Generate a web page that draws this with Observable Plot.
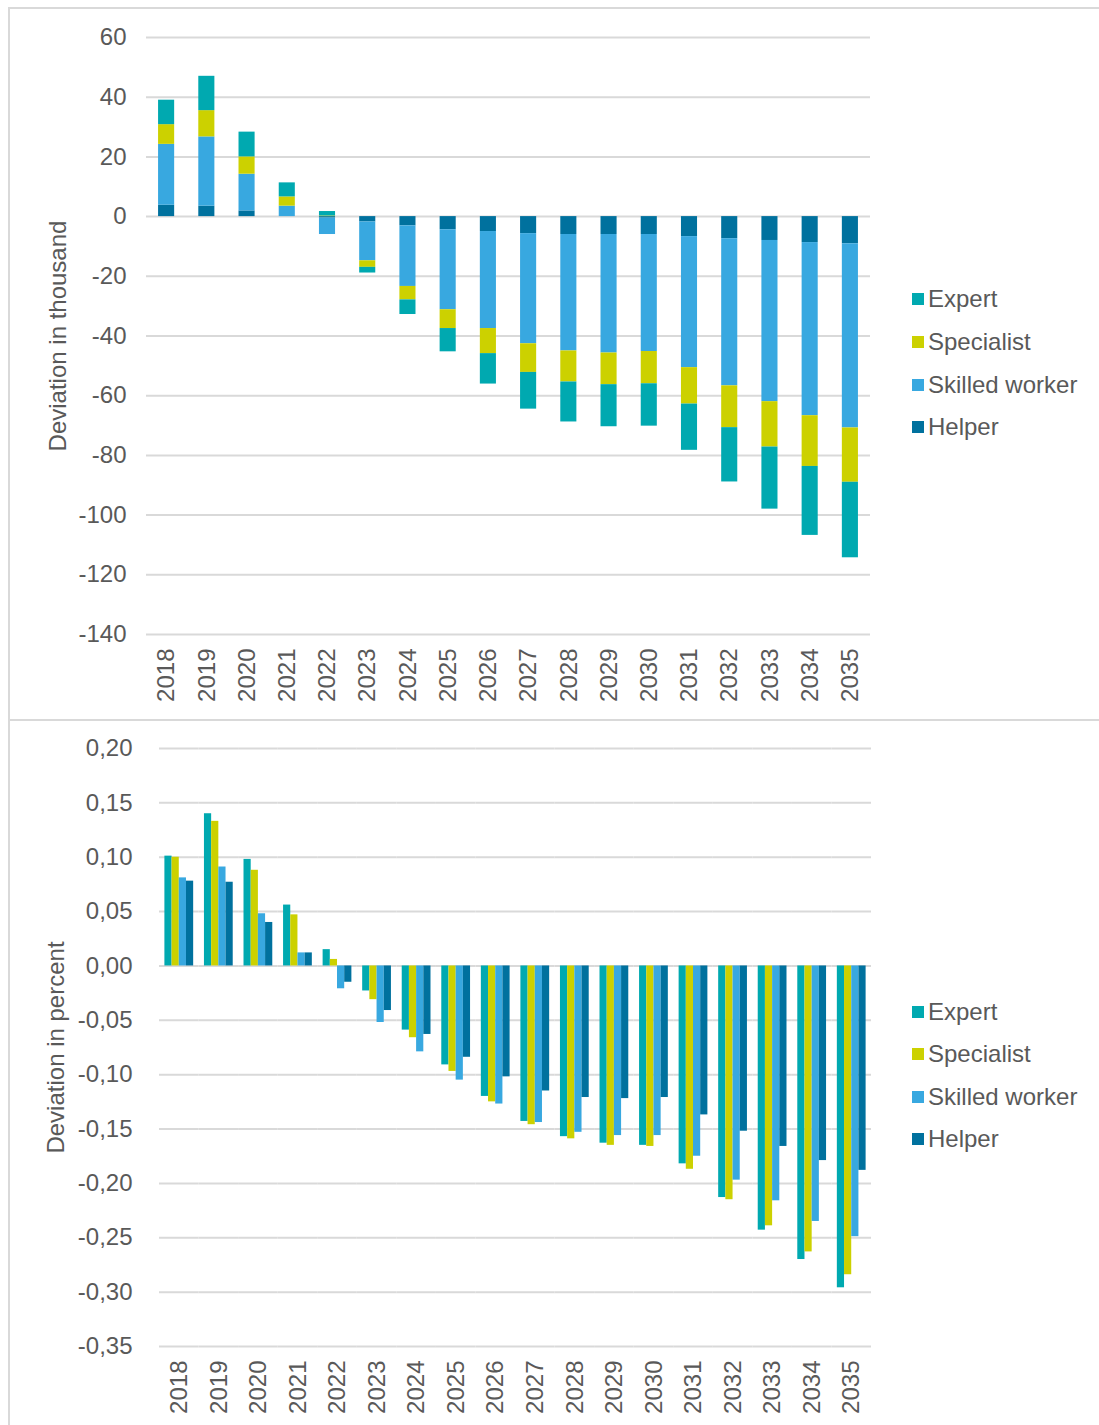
<!DOCTYPE html>
<html><head><meta charset="utf-8">
<script src="https://cdn.jsdelivr.net/npm/d3@7"></script>
<script src="https://cdn.jsdelivr.net/npm/@observablehq/plot@0.6"></script>
<style>
body{margin:0;background:#fff;}
#wrap{position:relative;width:1099px;height:1425px;overflow:hidden;font-family:"Liberation Sans",Arial,sans-serif;color:#595959;}
#wrap svg{position:absolute;left:0;}
.line{position:absolute;background:#d9d9d9;z-index:5}
.legend{position:absolute;left:912px;font-size:24px;color:#595959;}
.item{position:absolute;left:0;white-space:nowrap;height:0}
.sw{position:absolute;left:0;width:12px;height:12px;top:-6px}
.lt{position:absolute;left:16px;top:-14px;line-height:28px}
</style></head><body><div id="wrap"></div>
<script>
const years = ["2018","2019","2020","2021","2022","2023","2024","2025","2026","2027","2028","2029","2030","2031","2032","2033","2034","2035"];
const categories = ["Expert","Specialist","Skilled worker","Helper"];
const colorRange = ["#00A9B0","#CCD100","#38A8E0","#00719E"];

// Deviation in thousand
const expertAbs     = [8.2, 11.5, 8.3, 4.7, 1.5, -1.9, -4.9, -7.8, -10.2, -12.3, -13.4, -14.1, -14.2, -15.5, -18.2, -20.8, -23.1, -25.3];
const specialistAbs = [6.6, 8.8, 5.8, 3.1, 0.2, -2.2, -4.5, -6.3, -8.4, -9.6, -10.4, -10.6, -10.8, -12.2, -14.0, -15.2, -17.0, -18.2];
const skilledAbs    = [20.4, 23.2, 12.3, 3.5, -5.5, -13.0, -20.3, -26.8, -32.5, -36.9, -39.0, -39.7, -39.2, -43.9, -49.3, -54.0, -58.0, -61.7];
const helperAbs     = [3.8, 3.5, 1.9, 0, -0.5, -1.8, -3.1, -4.4, -5.0, -5.7, -6.0, -6.0, -6.0, -6.7, -7.4, -8.0, -8.7, -9.1];
const absTicks = [-140,-120,-100,-80,-60,-40,-20,0,20,40,60];

// Deviation in percent
const expertPct     = [0.101, 0.140, 0.098, 0.056, 0.015, -0.023, -0.059, -0.091, -0.120, -0.143, -0.157, -0.163, -0.165, -0.182, -0.213, -0.243, -0.270, -0.296];
const specialistPct = [0.100, 0.133, 0.088, 0.047, 0.006, -0.031, -0.066, -0.097, -0.125, -0.146, -0.159, -0.165, -0.166, -0.187, -0.215, -0.239, -0.263, -0.284];
const skilledPct    = [0.081, 0.091, 0.048, 0.012, -0.021, -0.052, -0.079, -0.105, -0.127, -0.144, -0.153, -0.156, -0.156, -0.175, -0.197, -0.216, -0.235, -0.249];
const helperPct     = [0.078, 0.077, 0.040, 0.012, -0.015, -0.041, -0.063, -0.084, -0.102, -0.115, -0.121, -0.122, -0.121, -0.137, -0.152, -0.166, -0.179, -0.188];
const pctTicks = [-0.35,-0.30,-0.25,-0.20,-0.15,-0.10,-0.05,0,0.05,0.10,0.15,0.20];

const absSeries = {"Helper": helperAbs, "Skilled worker": skilledAbs, "Specialist": specialistAbs, "Expert": expertAbs};
const pctSeries = {"Expert": expertPct, "Specialist": specialistPct, "Skilled worker": skilledPct, "Helper": helperPct};

// stacking order: Helper nearest zero, Expert outermost
const absData = [];
years.forEach((yr, i) => {
  ["Helper","Skilled worker","Specialist","Expert"].forEach(c => absData.push({year: yr, cat: c, v: absSeries[c][i]}));
});
const pctData = [];
years.forEach((yr, i) => {
  categories.forEach(c => pctData.push({year: yr, cat: c, v: pctSeries[c][i]}));
});

const font = '"Liberation Sans", Arial, sans-serif';
const baseStyle = {fontFamily: font, fontSize: "24px", color: "#595959", background: "transparent", overflow: "visible"};

const topChart = Plot.plot({
  width: 1099, height: 719,
  marginLeft: 146, marginRight: 229, marginTop: 37, marginBottom: 85,
  style: baseStyle,
  x: {domain: years, paddingInner: 0.6, paddingOuter: 0.3, round: false, label: null, tickRotate: -90, tickSize: 0, tickPadding: 14},
  y: {domain: [-140, 60], ticks: absTicks, tickFormat: d => String(d), tickSize: 0, tickPadding: 20,
      label: "Deviation in thousand", labelAnchor: "center", labelArrow: "none", labelOffset: 98},
  color: {domain: categories, range: colorRange},
  marks: [
    Plot.ruleY(absTicks, {stroke: "#d9d9d9", strokeWidth: 2}),
    Plot.barY(absData, {x: "year", y: "v", fill: "cat"})
  ]
});
topChart.style.top = "0px";

const bottomChart = Plot.plot({
  width: 1099, height: 705,
  marginLeft: 159, marginRight: 228, marginTop: 28, marginBottom: 79,
  style: baseStyle,
  fx: {domain: years, padding: 0, round: false, label: null, axis: "bottom", tickRotate: -90, tickSize: 0, tickPadding: 14},
  x: {domain: categories, paddingInner: 0, paddingOuter: 0.75, round: false, axis: null},
  y: {domain: [-0.35, 0.20], ticks: pctTicks, tickFormat: d => d.toFixed(2).replace(".", ","), tickSize: 0, tickPadding: 27,
      label: "Deviation in percent", labelAnchor: "center", labelArrow: "none", labelOffset: 113},
  color: {domain: categories, range: colorRange},
  marks: [
    Plot.ruleY(pctTicks, {stroke: "#d9d9d9", strokeWidth: 2}),
    Plot.barY(pctData, {fx: "year", x: "cat", y: "v", fill: "cat"})
  ]
});
bottomChart.style.top = "720px";

const wrap = document.getElementById("wrap");
wrap.appendChild(topChart);
wrap.appendChild(bottomChart);

function line(l, t, w, h) {
  const d = document.createElement("div");
  d.className = "line";
  Object.assign(d.style, {left: l + "px", top: t + "px", width: w + "px", height: h + "px"});
  wrap.appendChild(d);
}
line(8, 7, 1091, 2);
line(8, 7, 2, 1418);
line(8, 719, 1091, 2);

function legend(ys) {
  const lg = document.createElement("div");
  lg.className = "legend";
  lg.style.top = "0px";
  categories.forEach((c, i) => {
    const it = document.createElement("div");
    it.className = "item";
    it.style.top = ys[i] + "px";
    const sw = document.createElement("div");
    sw.className = "sw";
    sw.style.background = colorRange[i];
    const t = document.createElement("div");
    t.className = "lt";
    t.textContent = c;
    it.appendChild(sw); it.appendChild(t);
    lg.appendChild(it);
  });
  wrap.appendChild(lg);
}
legend([299, 342, 385, 427]);
legend([1012, 1054, 1097, 1139]);
</script>
</body></html>
